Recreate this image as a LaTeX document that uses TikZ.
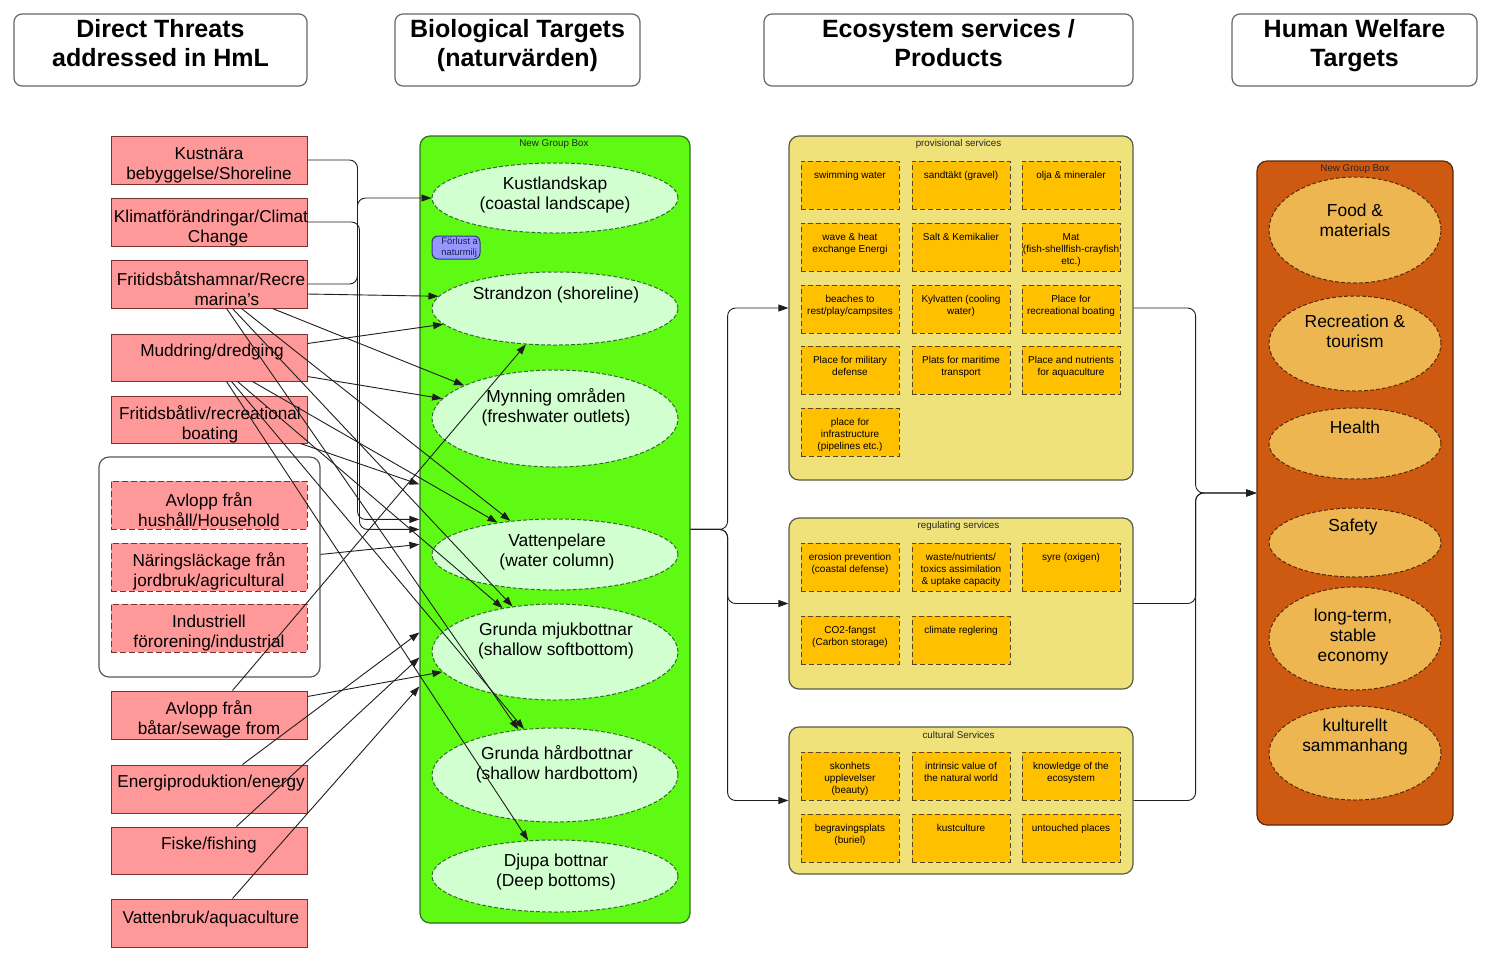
\documentclass[tikz,border=0pt]{standalone}
\usepackage{fontspec}
\setmainfont{Liberation Sans}
\usetikzlibrary{shapes.geometric,arrows.meta,calc,fit}

\definecolor{threatfill}{RGB}{255,153,153}
\definecolor{threatdraw}{RGB}{120,50,50}
\definecolor{greenbox}{RGB}{95,250,20}
\definecolor{greendraw}{RGB}{50,110,30}
\definecolor{ellfill}{RGB}{210,255,208}
\definecolor{elldraw}{RGB}{50,110,40}
\definecolor{yelbox}{RGB}{240,226,122}
\definecolor{yeldraw}{RGB}{90,90,70}
\definecolor{orbox}{RGB}{255,192,0}
\definecolor{ordraw}{RGB}{90,70,30}
\definecolor{rustbox}{RGB}{206,90,18}
\definecolor{rustdraw}{RGB}{90,40,10}
\definecolor{rustell}{RGB}{238,182,80}
\definecolor{blueboxfill}{RGB}{150,150,255}
\definecolor{blueboxdraw}{RGB}{50,50,140}
\definecolor{linec}{RGB}{30,30,30}

\newcommand\svcitem[4]{%
  \node[svc, fit={(#2,#3)(#2+98,#3+48)}] (#1) {};
  \node[svctxt, anchor=north] (#1t) at (#2+49,#3+8) {#4};}

\begin{document}
\begin{tikzpicture}[x=0.5pt,y=-0.5pt,
  hdr/.style={inner sep=0pt, draw=black!60, fill=white, rounded corners=4pt, line width=0.6pt},
  hdrtxt/.style={font=\fontsize{12.5}{14.6}\selectfont\bfseries, align=center, inner sep=0pt,
    execute at begin node=\strut, execute at end node=\strut},
  threat/.style={inner sep=0pt, draw=threatdraw, fill=threatfill, line width=0.5pt},
  threatd/.style={threat, dash pattern=on 3pt off 1.5pt},
  ttxt/.style={font=\fontsize{8.6}{10}\selectfont, align=center, inner sep=0pt, yshift=-1pt},
  grp/.style={inner sep=0pt, draw=black!65, fill=white, rounded corners=5pt, line width=0.6pt},
  greengrp/.style={inner sep=0pt, draw=greendraw, fill=greenbox, rounded corners=5pt, line width=0.6pt},
  bell/.style={ellipse, inner sep=0pt, draw=elldraw, fill=ellfill, line width=0.5pt, dash pattern=on 2pt off 1pt, minimum width=123pt},
  etxt/.style={font=\fontsize{8.7}{10}\selectfont, align=center, inner sep=0pt},
  gtxt/.style={etxt, yshift=-0.8pt},
  tiny/.style={font=\fontsize{4.9}{5.5}\selectfont, inner sep=0pt, text=black!85, yshift=-0.7pt},
  yelgrp/.style={inner sep=0pt, draw=yeldraw, fill=yelbox, rounded corners=5pt, line width=0.6pt},
  svc/.style={inner sep=0pt, draw=ordraw, fill=orbox, line width=0.5pt, dash pattern=on 2.5pt off 1.5pt},
  svctxt/.style={font=\fontsize{5}{6}\selectfont, align=center, inner sep=0pt, yshift=-1pt},
  rustgrp/.style={inner sep=0pt, draw=rustdraw, fill=rustbox, rounded corners=5pt, line width=0.6pt},
  rell/.style={ellipse, inner sep=0pt, draw=rustdraw, fill=rustell, line width=0.5pt, dash pattern=on 2pt off 1pt, minimum width=86pt},
  arr/.style={-{Triangle[length=5pt,width=3.5pt]}, draw=linec, line width=0.45pt},
  orth/.style={arr, rounded corners=4pt}
]
\useasboundingbox (0,0) rectangle (1500,971);
\fill[white] (0,0) rectangle (1500,971);

% ---------- headers ----------
\node[hdr, fit={(14,14)(307,86)}] (h1) {};
\node[hdrtxt] (h1t) at (160.5,47.5) {Direct Threats\\addressed in HmL};
\node[hdr, fit={(395,14)(640,86)}] (h2) {};
\node[hdrtxt] (h2t) at (517.5,47.5) {Biological Targets\\(naturvärden)};
\node[hdr, fit={(764,14)(1133,86)}] (h3) {};
\node[hdrtxt] (h3t) at (948.5,47.5) {Ecosystem services /\\Products};
\node[hdr, fit={(1232,14)(1477,86)}] (h4) {};
\node[hdrtxt] (h4t) at (1354.5,47.5) {Human Welfare\\Targets};

% ---------- threats ----------
\node[threat, fit={(111,136)(307,184)}] (t1) {};
\node[ttxt] (t1t) at (209,163) {Kustnära\\bebyggelse/Shoreline};
\node[threat, fit={(111,198)(307,246)}] (t2) {};
\node[ttxt] (t2t) at (211,226) {Klimatförändringar/Climat\\\hspace*{7pt}Change};
\node[threat, fit={(111,260)(307,308)}] (t3) {};
\node[ttxt] (t3t) at (211,286.5) {Fritidsbåtshamnar/Recre\\\hspace*{16pt}marina's};
\node[threat, fit={(111,334)(307,381)}] (t4) {};
\node[ttxt] (t4t) at (212,350) {Muddring/dredging};
\node[threat, fit={(111,396)(307,443)}] (t5) {};
\node[ttxt] (t5t) at (210,422) {Fritidsbåtliv/recreational\\boating};

\node[grp, fit={(99,457)(320,677)}] (gr) {};
\node[threatd, fit={(111,481)(307,529)}] (t6) {};
\node[ttxt] (t6t) at (209,508) {Avlopp från\\hushåll/Household};
\node[threatd, fit={(111,543)(307,591)}] (t7) {};
\node[ttxt] (t7t) at (209,569.5) {Näringsläckage från\\jordbruk/agricultural};
\node[threatd, fit={(111,604)(307,652)}] (t8) {};
\node[ttxt] (t8t) at (209,631) {Industriell\\förorening/industrial};

\node[threat, fit={(111,691)(307,739)}] (t9) {};
\node[ttxt] (t9t) at (209,717.5) {Avlopp från\\båtar/sewage from};
\node[threat, fit={(111,765)(307,813)}] (t10) {};
\node[ttxt] (t10t) at (211,781) {Energiproduktion/energy};
\node[threat, fit={(111,827)(307,874)}] (t11) {};
\node[ttxt] (t11t) at (209,843) {Fiske/fishing};
\node[threat, fit={(111,899)(307,947)}] (t12) {};
\node[ttxt] (t12t) at (211,917) {Vattenbruk/aquaculture};

% ---------- biological targets ----------
\node[greengrp, fit={(420,136)(690,923)}] (gb) {};
\node[tiny] (gbl) at (554,143) {New Group Box};
\node[bell, minimum height=35pt] (b1) at (555,198) {};
\node[gtxt] (b1t) at (555,193) {Kustlandskap\\(coastal landscape)};
\node[inner sep=0pt, draw=blueboxdraw, fill=blueboxfill, rounded corners=3pt, line width=0.5pt, fit={(432,236)(480,259)}] (bx) {};
\node[font=\fontsize{4.7}{5.5}\selectfont, align=left, inner sep=0pt, anchor=west, text=blueboxdraw!60!black] (bxt) at (441,247.5) {Förlust a\\naturmilj};
\node[bell, minimum height=36.5pt] (b2) at (555,308.5) {};
\node[gtxt] (b2t) at (556,293) {Strandzon (shoreline)};
\node[bell, minimum height=48.5pt] (b3) at (555,418.5) {};
\node[gtxt] (b3t) at (556,405.5) {Mynning områden\\(freshwater outlets)};
\node[bell, minimum height=35.5pt] (b4) at (555,554.5) {};
\node[gtxt] (b4t) at (557,550) {Vattenpelare\\(water column)};
\node[bell, minimum height=48pt] (b5) at (555,652) {};
\node[gtxt] (b5t) at (556,639.5) {Grunda mjukbottnar\\(shallow softbottom)};
\node[bell, minimum height=47pt] (b6) at (555,775) {};
\node[gtxt] (b6t) at (557,762.5) {Grunda hårdbottnar\\(shallow hardbottom)};
\node[bell, minimum height=36pt] (b7) at (555,876) {};
\node[gtxt] (b7t) at (556,870) {Djupa bottnar\\(Deep bottoms)};

% ---------- ecosystem services ----------
\node[yelgrp, fit={(789,136)(1133,480)}] (pv) {};
\node[tiny] (pvl) at (958.5,143) {provisional services};
\svcitem{p11}{801}{161}{swimming water}
\svcitem{p12}{912}{161}{sandtäkt (gravel)}
\svcitem{p13}{1022}{161}{olja \& mineraler}
\svcitem{p21}{801}{223}{wave \& heat\\exchange Energi}
\svcitem{p22}{912}{223}{Salt \& Kemikalier}
\svcitem{p23}{1022}{223}{Mat\\(fish-shellfish-crayfish\\etc.)}
\svcitem{p31}{801}{285}{beaches to\\rest/play/campsites}
\svcitem{p32}{912}{285}{Kylvatten (cooling\\water)}
\svcitem{p33}{1022}{285}{Place for\\recreational boating}
\svcitem{p41}{801}{346}{Place for military\\defense}
\svcitem{p42}{912}{346}{Plats for maritime\\transport}
\svcitem{p43}{1022}{346}{Place and nutrients\\for aquaculture}
\svcitem{p51}{801}{408}{place for\\infrastructure\\(pipelines etc.)}

\node[yelgrp, fit={(789,518)(1133,689)}] (rg) {};
\node[tiny] (rgl) at (958.5,525) {regulating services};
\svcitem{g11}{801}{543}{erosion prevention\\(coastal defense)}
\svcitem{g12}{912}{543}{waste/nutrients/\\toxics assimilation\\\& uptake capacity}
\svcitem{g13}{1022}{543}{syre (oxigen)}
\svcitem{g21}{801}{616}{CO2-fangst\\(Carbon storage)}
\svcitem{g22}{912}{616}{climate reglering}

\node[yelgrp, fit={(789,727)(1133,874)}] (cu) {};
\node[tiny] (cul) at (958.5,734) {cultural Services};
\svcitem{c11}{801}{752}{skonhets\\upplevelser\\(beauty)}
\svcitem{c12}{912}{752}{intrinsic value of\\the natural world}
\svcitem{c13}{1022}{752}{knowledge of the\\ecosystem}
\svcitem{c21}{801}{814}{begravingsplats\\(buriel)}
\svcitem{c22}{912}{814}{kustculture}
\svcitem{c23}{1022}{814}{untouched places}

% ---------- human welfare ----------
\node[rustgrp, fit={(1257,161)(1453,825)}] (rt) {};
\node[tiny] (rtl) at (1355,168) {New Group Box};
\node[rell, minimum height=53pt] (r1) at (1355,230) {};
\node[etxt] (r1t) at (1355,220) {Food \&\\materials};
\node[rell, minimum height=47.5pt] (r2) at (1355,343.5) {};
\node[etxt] (r2t) at (1355,331) {Recreation \&\\tourism};
\node[rell, minimum height=35.5pt] (r3) at (1355,443.5) {};
\node[etxt] (r3t) at (1355,427) {Health};
\node[rell, minimum height=34.5pt] (r4) at (1355,542.5) {};
\node[etxt] (r4t) at (1353,527) {Safety};
\node[rell, minimum height=51.5pt] (r5) at (1355,638.5) {};
\node[etxt, font=\fontsize{8.7}{10.2}\selectfont] (r5t) at (1353,637) {long-term,\\stable\\economy};
\node[rell, minimum height=47pt] (r6) at (1355,753) {};
\node[etxt] (r6t) at (1355,737) {kulturellt\\sammanhang};

% ---------- connectors: threats -> targets ----------
\draw[orth] (t1.east) -- ++(50,0) |- ($(gb.north west)+(0,384)$);
\draw[orth] (t2.east) -- ++(52,0) |- ($(gb.north west)+(0,394)$);
\draw[orth] (t3.east) -- ++(50,0) |- (b1.west);
\draw[arr] ($(t3.east)+(0,10)$) -- (b2.174);
\draw[arr] ($(t4.north east)+(0,10)$) -- (b2.188);
\draw[arr] ($(t9.north west)+(122,0)$) -- (b2.231);
\draw[arr] ($(t3.south west)+(162,0)$) -- (b3.160);
\draw[arr] ($(t4.north east)+(0,43)$) -- (b3.170);
\draw[arr] ($(t5.south east)+(-7,0)$) -- ($(gb.north west)+(0,349)$);
\draw[arr] ($(gr.north east)+(0,98)$) -- ($(gb.north west)+(0,409)$);
\draw[arr] ($(t4.south west)+(142,0)$) -- (b4.151);
\draw[arr] ($(t3.south west)+(131,0)$) -- (b4.143);
\draw[arr] ($(t4.south west)+(127,0)$) -- (b5.140);
\draw[arr] ($(t3.south west)+(122,0)$) -- (b5.133);
\draw[arr] ($(t10.north west)+(132,0)$) -- ($(gb.north west)+(0,497)$);
\draw[arr] ($(t11.north west)+(126,0)$) -- ($(gb.north west)+(0,522)$);
\draw[arr] ($(t9.north east)+(0,6)$) -- (b5.190);
\draw[arr] ($(t12.north west)+(122,0)$) -- ($(gb.north west)+(0,551)$);
\draw[arr] ($(t3.south west)+(116,0)$) -- (b6.129);
\draw[arr] ($(t4.south west)+(121,0)$) -- (b6.124);
\draw[arr] ($(t4.south west)+(116,0)$) -- (b7.127);

% ---------- connectors: targets -> services -> welfare ----------
\draw[orth] ($(gb.north east)+(0,394)$) -- ++(37,0) |- (pv.west);
\draw[orth] ($(gb.north east)+(0,394)$) -- ++(37,0) |- (rg.west);
\draw[orth] ($(gb.north east)+(0,394)$) -- ++(37,0) |- (cu.west);
\draw[orth] (pv.east) -- ++(62,0) |- (rt.west);
\draw[orth] (rg.east) -- ++(62,0) |- (rt.west);
\draw[orth] (cu.east) -- ++(62,0) |- (rt.west);
\end{tikzpicture}
\end{document}
